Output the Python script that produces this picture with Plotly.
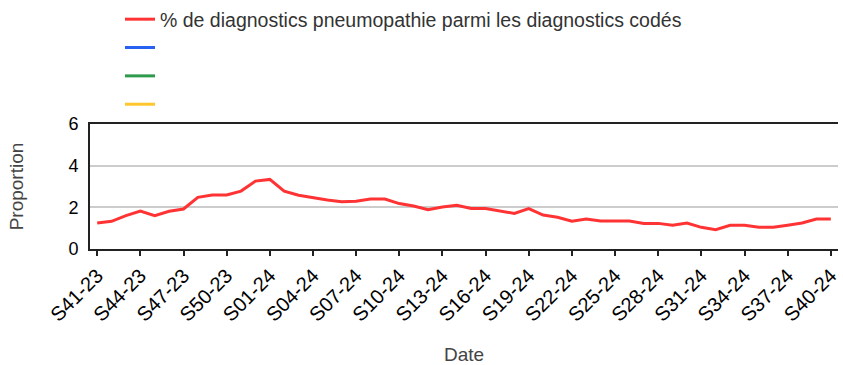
import plotly.graph_objects as go

# Weekly labels, S41-23 through S40-24
weeks = [f"S{w:02d}-23" for w in range(41, 53)] + [f"S{w:02d}-24" for w in range(1, 41)]

# % of pneumonia diagnoses among coded diagnoses
pneumo_pct = [
    1.25, 1.33, 1.60, 1.82, 1.60, 1.81, 1.92, 2.48, 2.59, 2.59,
    2.78, 3.26, 3.34, 2.78, 2.58, 2.46, 2.35, 2.27, 2.29, 2.40,
    2.40, 2.18, 2.06, 1.89, 2.02, 2.10, 1.94, 1.94, 1.82, 1.71,
    1.94, 1.63, 1.52, 1.33, 1.44, 1.34, 1.34, 1.34, 1.23, 1.23,
    1.14, 1.25, 1.04, 0.93, 1.14, 1.14, 1.04, 1.04, 1.14, 1.25,
    1.44, 1.44,
]

series_name = "% de diagnostics pneumopathie parmi les diagnostics codés"
extra_colors = ["#2962f0", "#2e9a4c", "#ffc62e"]

tick_weeks = weeks[::3]
y_ticks = [0, 2, 4, 6]

fig = go.Figure()
fig.add_trace(go.Scatter(
    x=weeks, y=pneumo_pct, mode="lines", name=series_name,
    line=dict(color="#ff3333", width=3), legendgroup="a",
))
for i, c in enumerate(extra_colors):
    fig.add_trace(go.Scatter(
        x=[None], y=[None], mode="lines", name=" ",
        line=dict(color=c, width=3), legendgroup=f"g{i}",
    ))

fig.update_layout(
    width=843, height=365,
    margin=dict(l=90, r=5, t=124, b=116),
    paper_bgcolor="white", plot_bgcolor="white",
    font=dict(family="Liberation Sans, Arial, sans-serif", color="#000"),
    showlegend=True,
    legend=dict(
        x=(120 - 90) / (843 - 90 - 5), xref="paper", xanchor="left",
        y=1.0, yref="container", yanchor="top",
        font=dict(size=19.5, color="#333"),
        tracegroupgap=0, itemwidth=30,
        bgcolor="rgba(0,0,0,0)",
    ),
    xaxis=dict(
        type="category", categoryorder="array", categoryarray=weeks,
        range=[-0.5, len(weeks) - 0.5], automargin=False,
        tickmode="array", tickvals=tick_weeks, ticktext=tick_weeks,
        tickangle=-45, tickfont=dict(size=20, color="#000"),
        ticks="outside", ticklen=5, tickwidth=2, tickcolor="#222",
        showline=True, linecolor="#222", linewidth=2, mirror=True,
        showgrid=False, zeroline=False,
        title=dict(text="Date", font=dict(size=19, color="#444"), standoff=40),
    ),
    yaxis=dict(
        range=[0, 6], tickmode="array", tickvals=y_ticks, automargin=False,
        tickfont=dict(size=18, color="#000"), ticklabelstandoff=6,
        showline=True, linecolor="#222", linewidth=2,
        showgrid=True, gridcolor="#cccccc", gridwidth=2,
        zeroline=False, ticks="",
        title=dict(text="Proportion", font=dict(size=19, color="#444"), standoff=40),
    ),
)

fig.write_html("out.html")
